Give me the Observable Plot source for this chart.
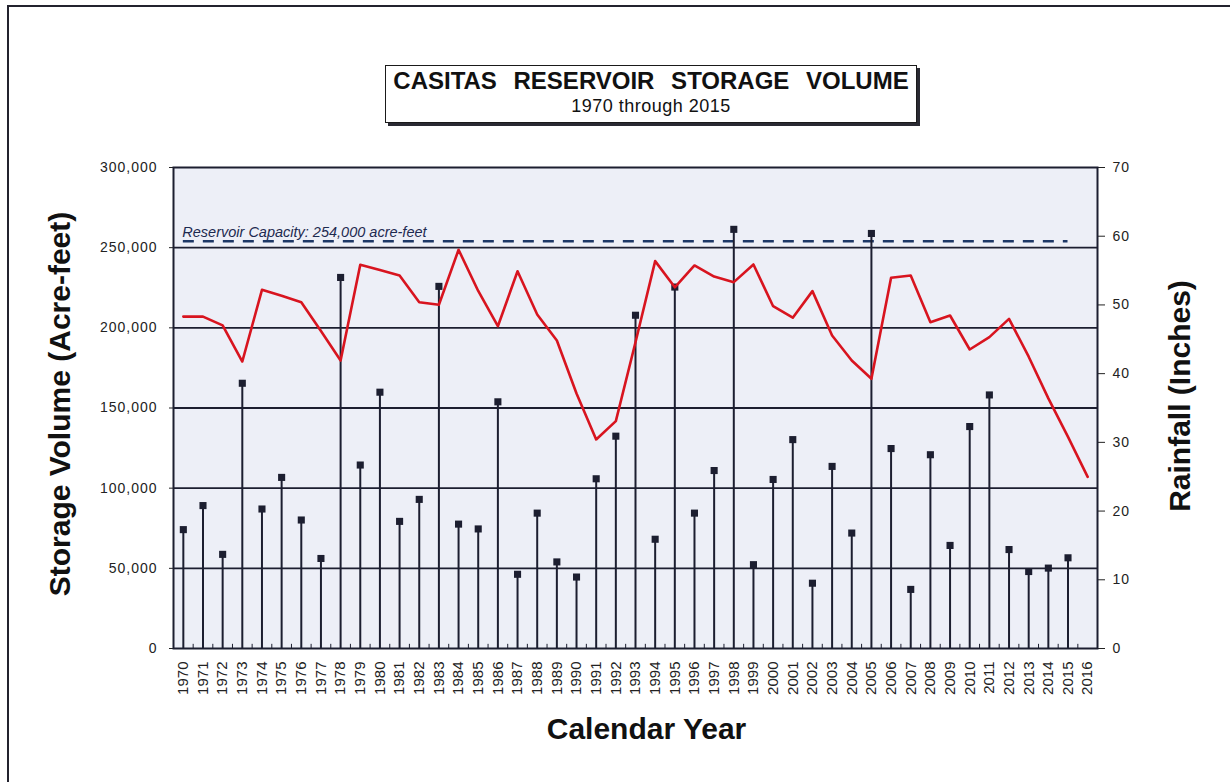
<!DOCTYPE html>
<html>
<head>
<meta charset="utf-8">
<script src="https://cdn.jsdelivr.net/npm/d3@7"></script>
<script src="https://cdn.jsdelivr.net/npm/@observablehq/plot@0.6"></script>
<style>
  html, body { margin: 0; padding: 0; background: #fff; }
  #page { position: relative; width: 1230px; height: 782px; overflow: hidden; background: #fff;
          font-family: "Liberation Sans", Arial, sans-serif; }
  #border { position: absolute; left: 7px; top: 5px; width: 1240px; height: 800px;
            border-top: 2px solid #23232e; border-left: 2px solid #23232e; box-sizing: border-box; }
  #titlebox { position: absolute; left: 385px; top: 65px; width: 532px; height: 58px; box-sizing: border-box;
              background: #fff; border: 1.5px solid #1a1a1a; box-shadow: 3px 3px 0 #2a2a33; text-align: center; color: #111; }
  #titlebox .t1 { font-weight: bold; font-size: 24px; line-height: 24px; margin-top: 3px; word-spacing: 10px; white-space: nowrap; }
  #titlebox .t2 { font-size: 18px; line-height: 20px; margin-top: 3px; letter-spacing: 0.5px; }
  #chart { position: absolute; left: 0; top: 0; }
  #chart svg g[aria-label="y-axis tick label"] text { letter-spacing: 1px; }
</style>
</head>
<body>
<div id="page">
  <div id="border"></div>
  <div id="chart"></div>
  <div id="titlebox">
    <div class="t1">CASITAS RESERVOIR STORAGE VOLUME</div>
    <div class="t2">1970 through 2015</div>
  </div>
</div>
<script>
// ---- data ----
const years = [1970,1971,1972,1973,1974,1975,1976,1977,1978,1979,1980,1981,1982,1983,1984,1985,1986,1987,1988,1989,
  1990,1991,1992,1993,1994,1995,1996,1997,1998,1999,2000,2001,2002,2003,2004,2005,2006,2007,2008,2009,
  2010,2011,2012,2013,2014,2015,2016];
const storageAcreFeet = [207000,207000,201500,179000,223700,220000,216000,198000,179600,239300,
  236000,232600,216000,214400,248700,223000,201000,235300,208300,192100,
  159000,130400,141800,191000,241600,225300,238900,232000,228500,239500,
  213500,206300,222900,195200,179600,168200,231200,232600,203500,207700,
  186500,194200,205600,182000,156000,132000,107000];
const rainYears = years.slice(0, 46);
const rainfallInches = [17.3,20.8,13.7,38.6,20.3,24.9,18.7,13.1,54.0,26.7,
  37.3,18.5,21.7,52.7,18.1,17.4,35.9,10.8,19.7,12.6,
  10.4,24.7,30.9,48.5,15.9,52.6,19.7,25.9,61.0,12.2,
  24.6,30.4,9.5,26.5,16.8,60.4,29.1,8.6,28.2,15.0,
  32.3,36.9,14.4,11.2,11.7,13.2];
const leftTicks = [0,50000,100000,150000,200000,250000,300000];
const rightTicks = [0,10,20,30,40,50,60,70];
const capacityValue = 254000;
const capacityYears = [1970, 2015];
const capacityLabel = "Reservoir Capacity: 254,000 acre-feet";
const xLabel = "Calendar Year";
const yLeftLabel = "Storage Volume (Acre-feet)";
const yRightLabel = "Rainfall (Inches)";

// ---- build ----
const k = 300000 / 70; // rainfall inches -> storage scale units
const storageData = years.map((y, i) => ({year: y, v: storageAcreFeet[i]}));
const rainData = rainYears.map((y, i) => ({year: y, r: rainfallInches[i]}));
const boundaries = years.slice(0, -1).map(y => y + 0.5);

const ink = "#1c1e30";
const chart = Plot.plot({
  width: 1230, height: 782,
  marginLeft: 173, marginRight: 133, marginTop: 167, marginBottom: 134,
  style: {fontFamily: "'Liberation Sans', Arial, sans-serif", background: "transparent", color: "#222", overflow: "visible"},
  x: {type: "linear", domain: [1969.5, 2016.5]},
  y: {domain: [0, 300000]},
  marks: [
    Plot.frame({fill: "#edeff7", stroke: "none"}),
    Plot.ruleY(leftTicks.slice(1, -1), {stroke: ink, strokeWidth: 1.8}),
    Plot.ruleX(boundaries, {x: d => d, y1: 0, y2: 2600, stroke: ink, strokeWidth: 1}),
    Plot.ruleY([capacityValue], {x1: capacityYears[0], x2: capacityYears[1], stroke: "#1d3766", strokeWidth: 2.5, strokeDasharray: "11,9"}),
    Plot.text([capacityLabel], {x: capacityYears[0], y: capacityValue, dx: -1, dy: -4, text: d => d, textAnchor: "start", lineAnchor: "bottom",
      fontStyle: "italic", fontSize: 14.5, fill: "#1d2a50"}),
    Plot.ruleX(rainData, {x: "year", y1: 0, y2: d => d.r * k, stroke: ink, strokeWidth: 2}),
    Plot.dot(rainData, {x: "year", y: d => d.r * k, symbol: "square", r: 4, fill: ink, stroke: "none"}),
    Plot.line(storageData, {x: "year", y: "v", stroke: "#d8141f", strokeWidth: 2.6}),
    Plot.axisX({ticks: years, tickFormat: d => String(d), tickRotate: -90, tickSize: 0, tickPadding: 13, fontSize: 15, label: null}),
    Plot.axisY({anchor: "left", ticks: leftTicks, tickFormat: d3.format(","), tickSize: 4, tickPadding: 12, fontSize: 14, label: null}),
    Plot.axisY({anchor: "right", ticks: rightTicks.map(v => v * k), tickFormat: d => String(Math.round(d / k)), tickSize: 7, tickPadding: 8, fontSize: 14, label: null}),
    Plot.frame({stroke: ink, strokeWidth: 2}),
    Plot.text([yLeftLabel], {frameAnchor: "left", text: d => d, rotate: -90, textAnchor: "middle", lineAnchor: "middle", dx: -113, dy: -4, fontSize: 30, fontWeight: "bold", fill: "#111"}),
    Plot.text([yRightLabel], {frameAnchor: "right", text: d => d, rotate: -90, textAnchor: "middle", lineAnchor: "middle", dx: 83, dy: -12, fontSize: 30, fontWeight: "bold", fill: "#111"}),
    Plot.text([xLabel], {frameAnchor: "bottom", text: d => d, textAnchor: "middle", lineAnchor: "middle", dx: 11, dy: 81, fontSize: 30, fontWeight: "bold", fill: "#111"})
  ]
});
document.getElementById("chart").appendChild(chart);
</script>
</body>
</html>
